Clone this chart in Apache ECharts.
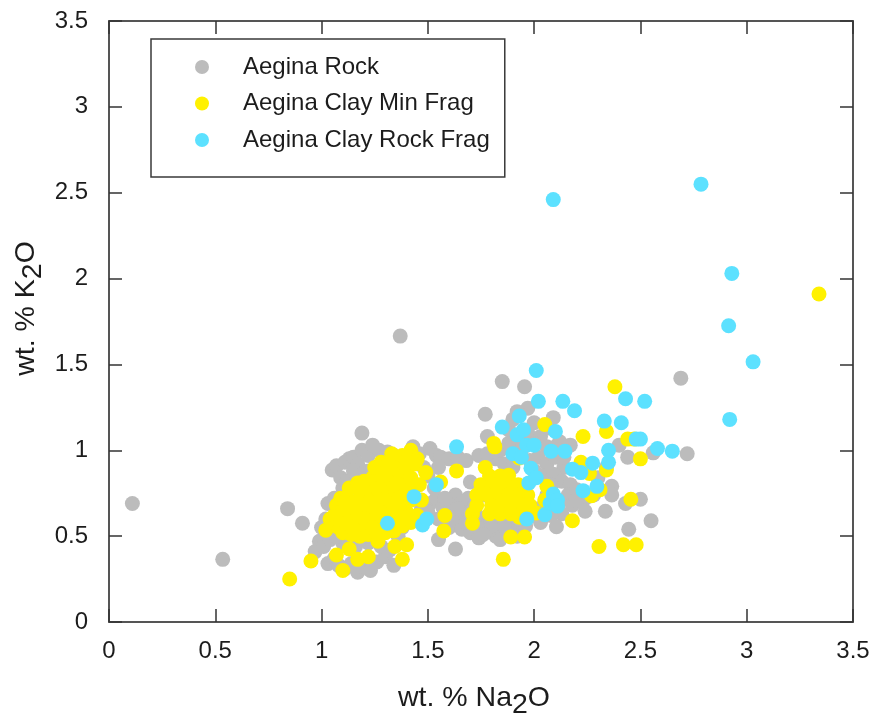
<!DOCTYPE html>
<html><head><meta charset="utf-8">
<style>html,body{margin:0;padding:0;background:#fff}#c{width:874px;height:715px}</style>
<script src="https://cdn.jsdelivr.net/npm/echarts@6/dist/echarts.min.js"></script>
</head><body><div id="c"></div>
<script>
const seriesNames = ['Aegina Rock','Aegina Clay Min Frag','Aegina Clay Rock Frag'];
const tickValues = [0,0.5,1,1.5,2,2.5,3,3.5];
const aeginaRock = [
[0.11,0.69],[0.535,0.365],[0.84,0.66],[0.91,0.575],[1.37,1.665],[1.19,1.10],
[1.05,0.885],[1.07,0.91],[1.09,0.84],[1.11,0.93],[1.13,0.95],[1.15,0.96],[1.17,0.92],[1.19,1.0],[1.22,0.97],[1.24,1.03],[1.27,1.0],[1.31,0.99],[1.34,0.97],[1.38,0.96],[1.43,1.02],[1.46,0.98],[1.51,1.01],[1.54,0.97],[1.56,0.96],[1.6,0.95],[1.64,0.96],[1.68,0.94],[1.74,0.97],[1.7,0.815],
[1.1,0.78],[1.12,0.82],[1.15,0.88],[1.18,0.85],[1.22,0.88],[1.26,0.9],[1.13,0.72],[1.09,0.68],[1.03,0.69],[1.06,0.72],[1.0,0.55],[1.02,0.6],[1.05,0.56],[0.99,0.47],[0.97,0.41],[1.01,0.44],[1.04,0.48],[1.03,0.34],[1.06,0.37],[1.08,0.33],[1.11,0.31],[1.14,0.34],[1.17,0.29],[1.2,0.32],[1.23,0.3],[1.26,0.35],[1.3,0.38],[1.34,0.33],[1.32,0.42],[1.28,0.44],[1.22,0.46],[1.16,0.44],[1.1,0.46],[1.07,0.5],[1.38,0.55],[1.36,0.5],
[1.5,0.85],[1.53,0.78],[1.48,0.9],[1.55,0.9],[1.51,0.69],[1.54,0.72],[1.57,0.67],[1.6,0.7],[1.63,0.74],[1.66,0.7],[1.69,0.72],[1.72,0.68],[1.55,0.6],[1.6,0.64],[1.64,0.6],[1.68,0.63],[1.72,0.58],[1.76,0.6],[1.8,0.64],[1.55,0.48],[1.6,0.55],[1.63,0.425],[1.66,0.54],[1.7,0.52],[1.74,0.49],[1.78,0.53],[1.82,0.5],[1.87,0.52],[1.9,0.55],[1.84,0.58],[1.77,0.74],[1.47,0.66],[1.5,0.64],[1.58,0.72],[1.64,0.66],[1.68,0.58],[1.74,0.55],[1.8,0.56],[1.86,0.56],[1.76,0.51],[1.84,0.48],[1.92,0.5],[1.73,0.62],
[1.77,1.21],[1.78,1.08],[1.85,1.40],[1.955,1.37],[1.97,1.245],[1.92,1.225],[1.88,1.12],[1.9,1.18],[2.0,1.16],[2.09,1.19],[1.97,1.1],[2.03,1.08],[2.07,1.13],[2.12,1.05],[2.17,1.03],[1.82,0.95],[1.78,0.98],[1.86,0.92],[1.84,1.0],[1.9,0.9],[1.94,1.0],[1.98,0.94],[2.02,0.96],[2.06,0.92],[2.1,0.96],[2.14,0.9],[2.06,1.02],[2.0,0.88],[2.04,0.85],[2.09,0.86],[2.13,0.82],[2.17,0.8],[2.08,0.8],[2.16,0.74],[2.2,0.77],[2.24,0.72],[2.28,0.74],[2.24,0.645],[2.18,0.68],[2.13,0.63],[2.105,0.555],[2.03,0.58],[1.98,0.62],[1.96,0.56],[1.93,0.6],[2.335,0.645],[2.365,0.79],[2.365,0.74],[2.5,0.715],[2.43,0.69],[2.55,0.59],[2.445,0.54],[2.44,0.96],[2.4,1.03],[2.56,0.985],[2.69,1.42],[2.72,0.98],[2.3,0.84],[2.34,0.9],[1.92,1.05],[1.88,1.04],[2.0,1.04],[2.1,1.02],[2.14,0.96],[2.06,0.74],[2.02,0.66],[2.12,0.7],[2.2,0.71],[2.08,0.62]
];
const aeginaClayMinFrag = [
[0.85,0.25],[0.95,0.355],[1.10,0.30],[1.07,0.39],[1.13,0.425],[1.17,0.365],[1.22,0.38],[1.38,0.365],[1.345,0.44],[1.40,0.45],[1.265,0.47],[1.575,0.53],[1.58,0.62],[1.635,0.88],[1.47,0.71],[1.56,0.815],
[1.02,0.535],[1.05,0.57],[1.08,0.55],[1.1,0.52],[1.14,0.51],[1.18,0.5],[1.22,0.51],[1.26,0.52],[1.3,0.52],[1.34,0.53],[1.38,0.56],[1.42,0.58],[1.45,0.62],[1.04,0.6],[1.06,0.62],[1.09,0.6],[1.12,0.58],[1.16,0.57],[1.2,0.56],[1.24,0.58],[1.28,0.59],[1.32,0.6],[1.36,0.61],[1.4,0.64],[1.07,0.68],[1.1,0.66],[1.14,0.64],[1.18,0.63],[1.22,0.64],[1.26,0.65],[1.3,0.66],[1.34,0.67],[1.38,0.69],[1.42,0.71],[1.09,0.72],[1.12,0.72],[1.16,0.7],[1.2,0.7],[1.24,0.71],[1.28,0.72],[1.32,0.73],[1.36,0.75],[1.4,0.77],[1.13,0.78],[1.18,0.76],[1.22,0.77],[1.26,0.78],[1.3,0.79],[1.34,0.8],[1.38,0.82],[1.42,0.84],[1.46,0.8],[1.17,0.81],[1.2,0.82],[1.24,0.84],[1.28,0.85],[1.32,0.86],[1.36,0.88],[1.4,0.9],[1.44,0.92],[1.49,0.87],[1.25,0.9],[1.28,0.93],[1.31,0.92],[1.35,0.94],[1.38,0.97],[1.42,1.0],[1.45,0.95],[1.33,0.98],[1.4,0.94],[1.16,0.66],[1.11,0.7],[1.2,0.6],[1.3,0.55],[1.36,0.56],[1.24,0.55],[1.15,0.54],
[1.71,0.63],[1.71,0.575],[1.77,0.90],[1.81,1.04],[1.815,1.02],[1.93,0.955],
[1.79,0.85],[1.84,0.85],[1.88,0.855],[1.75,0.8],[1.8,0.8],[1.85,0.8],[1.9,0.8],[1.925,0.8],[1.73,0.74],[1.78,0.74],[1.83,0.74],[1.88,0.74],[1.93,0.74],[1.97,0.74],[1.73,0.68],[1.8,0.68],[1.85,0.68],[1.9,0.68],[1.95,0.68],[1.98,0.68],[1.79,0.63],[1.84,0.63],[1.89,0.63],[1.93,0.61],
[1.89,0.495],[1.955,0.495],[1.855,0.365],[2.05,1.15],[2.06,0.79],[2.05,0.71],[2.01,0.635],[2.18,0.59],[2.23,1.08],[2.22,0.93],[2.26,0.865],[2.27,0.735],[2.31,0.77],[2.34,0.885],[2.305,0.44],[2.42,0.45],[2.48,0.45],[2.455,0.715],[2.50,0.95],[2.44,1.065],[2.47,1.065],[2.34,1.11],[2.38,1.37],[3.34,1.91]
];
const aeginaClayRockFrag = [
[1.31,0.575],[1.435,0.73],[1.475,0.565],[1.495,0.60],[1.54,0.80],[1.635,1.02],
[1.85,1.135],[1.90,0.98],[1.92,1.09],[1.93,1.20],[1.94,0.96],[1.95,1.12],[1.965,0.60],[1.965,1.03],[1.975,0.81],[1.985,0.895],[2.00,1.03],[2.01,1.465],[2.01,0.84],[2.02,1.285],[2.05,0.625],[2.075,0.69],[2.08,0.995],[2.09,2.46],[2.09,0.745],[2.10,1.11],[2.11,0.71],[2.11,0.675],[2.135,1.285],[2.145,0.995],[2.18,0.89],[2.19,1.23],[2.22,0.87],[2.23,0.765],[2.275,0.925],[2.295,0.79],[2.33,1.17],[2.35,1.00],[2.35,0.93],[2.41,1.16],[2.43,1.30],[2.50,1.065],[2.52,1.285],[2.48,1.065],[2.58,1.01],[2.65,0.995],[2.785,2.55],[2.915,1.725],[2.92,1.18],[2.93,2.03],[3.03,1.515]
];
const xTitle = 'wt. % Na{sub|2}O';
const yTitle = 'wt. % K{sub|2}O';
const seriesColors = ['#bcbcbc','#fff100','#5ce1ff'];
const seriesData = [aeginaRock, aeginaClayMinFrag, aeginaClayRockFrag];

const lineC = '#555555', textC = '#1c1c1c';
const font = 'Liberation Sans, Arial, sans-serif';
const base = {min:0,max:3.5,interval:0.5,splitLine:{show:false},
  axisLine:{onZero:false,lineStyle:{color:lineC,width:2}},
  axisTick:{inside:true,length:13,lineStyle:{color:'#333',width:1.5}}};
const labels = (margin)=>({color:textC,fontSize:24,fontFamily:font,margin:margin,showMinLabel:true,showMaxLabel:true,
    formatter:v=>String(v), customValues:tickValues});
const hidden = {...base,axisLabel:{show:false},name:''};
const chart = echarts.init(document.getElementById('c'),null,{renderer:'canvas'});
const nameStyle = (pad)=>({color:textC,fontSize:28.5,fontFamily:font,padding:pad,
  rich:{sub:{fontSize:28.5,fontFamily:font,color:textC,padding:[14,0,0,0],verticalAlign:'bottom'}}});
chart.setOption({
  animation:false,backgroundColor:'#fff',
  grid:{left:109,right:21,top:21,bottom:93,containLabel:false,outerBoundsMode:'none'},
  legend:{show:true,orient:'vertical',left:151,top:39,
    padding:[16,15,25,44],itemGap:12.5,itemWidth:14,itemHeight:14,
    borderColor:'#3a3a3a',borderWidth:1.5,backgroundColor:'#fff',
    icon:'circle',data:seriesNames,z:20,
    textStyle:{color:textC,fontSize:24,fontFamily:font,padding:[0,0,0,29]}},
  xAxis:[{...base,type:'value',position:'bottom',axisLabel:labels(17),name:xTitle,nameLocation:'middle',nameGap:55,nameMoveOverlap:false,nameTextStyle:nameStyle([0,14,0,0])},
         {...hidden,type:'value',position:'top'}],
  yAxis:[{...base,type:'value',position:'left',axisLabel:labels(21),name:yTitle,nameLocation:'middle',nameGap:61,nameMoveOverlap:false,nameTextStyle:nameStyle([0,0,0,26])},
         {...hidden,type:'value',position:'right'}],
  series:seriesNames.map((n,i)=>({name:n,type:'scatter',data:seriesData[i],symbol:'circle',symbolSize:15,
    itemStyle:{color:seriesColors[i],opacity:1},z:2+i}))
});
</script></body></html>
